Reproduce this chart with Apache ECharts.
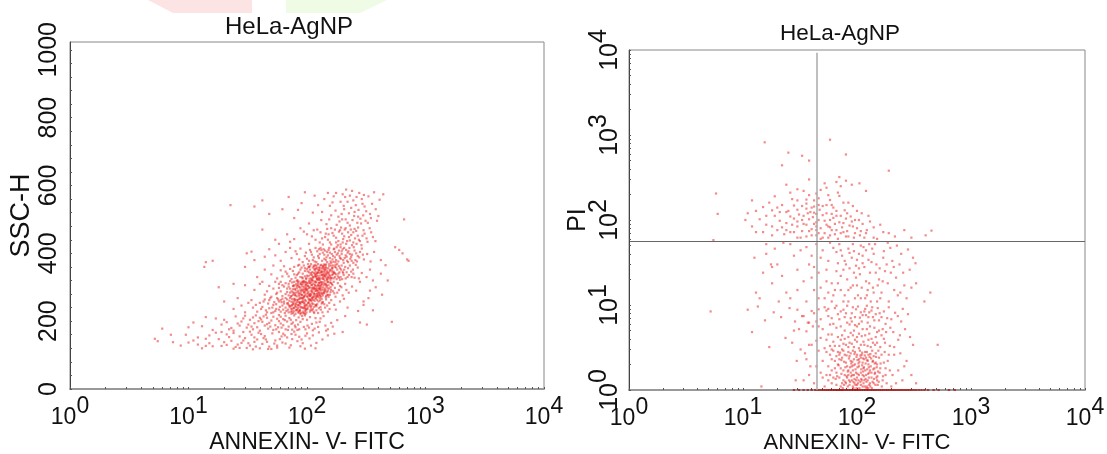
<!DOCTYPE html>
<html>
<head>
<meta charset="utf-8">
<style>html,body{margin:0;padding:0;background:#fff}#main{width:1107px;height:454px}</style>
<script src="https://cdn.jsdelivr.net/npm/echarts@6/dist/echarts.min.js"></script>
</head>
<body>
<div id="main"></div>
<script>
// left plot (ssc height), [annexin, ssc]
const ssc120 = [[12,131],[47,118],[23,142],[88,126],[15,158],[62,137],[31,121],[105,149],[19,127],[74,162],[38,146],[13,120],[56,128],[27,155],[96,119],[42,133],[18,147],[68,152],[33,128],[120,136],[24,119],[51,164],[10,137],[83,141],[29,168],[16,126],[44,156],[71,122],[36,139],[21,161],[59,147],[112,158],[26,131],[78,169],[14,148],[48,125],[34,160],[92,135],[40,120],[20,138],[65,158],[30,150],[8.6,128],[54,143],[135,146],[17,166],[25,124],[86,154],[39,166],[12,152],[46,139],[73,129],[22,153],[100,164],[35,117],[58,168],[28,136],[150,158],[43,150],[19,168],[66,134],[11,143],[32,135],[80,160],[50,118],[24,165],[126,167],[37,125],[61,155],[15,135],[90,146],[41,162],[27,121],[170,163],[53,134],[9.5,160],[75,147],[33,169],[108,128],[45,146],[21,130],[63,163],[29,143],[97,157],[36,152],[14,127],[56,122],[200,168],[118,120],[5.2,148],[5.5,141],[7.4,138],[7.1,160],[6,178]];
const ssc170 = [[54,188],[22,176],[81,203],[36,194],[13,185],[104,181],[46,210],[66,176],[28,199],[91,215],[40,172],[17,208],[74,192],[58,218],[31,181],[120,196],[49,184],[25,214],[86,176],[63,206],[35,211],[143,187],[42,198],[19,190],[70,184],[100,204],[52,174],[27,187],[78,217],[11,196],[60,193],[33,204],[112,173],[45,219],[23,180],[84,190],[56,207],[38,182],[130,208],[68,199],[16,174],[94,183],[48,195],[30,216],[75,175],[160,195],[41,205],[61,181],[106,212],[26,193],[88,198],[52,213],[35,176],[124,183],[71,209],[20,204],[44,187],[97,176],[58,200],[138,215],[32,190],[80,182],[66,216],[47,178],[110,192],[24,172],[85,211],[39,200],[150,176],[63,188],[14,212],[55,176],[92,206],[29,208],[76,196],[118,209],[43,214],[180,203],[69,174],[50,202],[101,187],[37,217],[83,174],[60,213],[128,198],[21,197],[73,204],[46,191],[165,184],[34,184],[57,182],[96,217],[10,182],[116,178],[79,187],[40,210],[210,215],[145,172],[88,220],[65,203]];
const ssc220 = [[72,244],[38,228],[104,258],[55,236],[86,266],[120,232],[64,252],[28,246],[95,224],[48,262],[78,238],[140,250],[60,228],[110,268],[42,242],[88,250],[70,226],[125,258],[52,248],[98,234],[34,262],[82,256],[115,224],[66,240],[155,236],[45,232],[92,264],[75,230],[58,258],[130,242],[100,248],[24,236],[68,264],[84,226],[108,240],[50,224],[122,262],[76,252],[40,254],[96,230],[62,246],[145,264],[90,240],[56,268],[118,248],[80,222],[35,240],[102,254],[71,260],[135,226],[47,252],[87,234],[112,236],[65,224],[170,248],[93,258],[54,230],[128,268],[74,246],[30,226],[106,228],[59,242],[83,262],[150,228],[44,264],[97,246],[69,234],[116,260],[78,266],[190,258],[61,256],[89,224],[133,252],[51,240],[103,266],[73,228],[20,258],[94,252],[57,264],[126,238],[81,242],[37,248],[110,252],[66,268],[160,262],[46,226],[99,226],[85,248],[120,244],[63,234],[142,240],[77,258],[53,256],[108,262],[91,268],[70,248],[41,236],[114,228],[82,232],[175,234],[60,262],[96,240],[49,268],[136,256],[75,236],[105,244],[87,254],[67,230],[124,224],[55,250],[32,254],[101,236],[79,264],[148,246],[92,228],[64,258],[118,266],[43,258],[84,240],[220,240],[72,268],[110,232],[58,234],[26,268],[98,260],[131,234],[76,224],[90,256],[52,226],[205,266],[68,252],[122,250],[86,230],[48,238],[106,264],[62,266],[154,254],[95,244],[80,252],[115,242],[74,222]];
const ssc270 = [[118,296],[78,282],[145,274],[92,310],[60,288],[130,316],[104,278],[70,302],[160,292],[86,274],[112,318],[52,296],[136,284],[98,300],[75,314],[124,276],[152,306],[66,280],[108,290],[84,308],[180,284],[44,278],[120,304],[94,286],[142,296],[72,318],[114,272],[58,310],[100,312],[168,316],[88,292],[132,302],[80,276],[105,298],[36,292],[156,278],[124,288],[68,296],[96,276],[140,312],[76,304],[116,308],[195,300],[90,316],[48,304],[128,294],[102,282],[148,286],[82,298],[62,274],[110,306],[174,272],[94,294],[134,280],[74,288],[120,314],[54,316],[158,300],[86,284],[106,274],[210,310],[126,298],[70,310],[98,316],[144,270],[80,292],[114,284],[40,310],[162,310],[92,302],[130,290],[66,312],[108,276],[186,292],[84,314],[122,282],[150,316],[76,278],[102,304],[138,306],[56,284],[118,274],[96,288],[170,282],[88,310],[112,296],[225,284],[72,296],[132,272],[64,302],[126,312],[100,290],[154,296],[82,318],[116,280],[46,288],[146,302],[90,278],[106,312],[200,276],[78,306],[134,310],[122,292],[60,316],[94,272],[164,306],[110,286],[74,274],[128,304],[86,300],[142,288],[240,302],[102,296],[50,272],[118,316],[68,286],[156,314],[98,308],[136,276],[80,284],[112,272],[182,312],[92,290],[124,306],[30,306],[148,278],[104,318],[76,294],[130,298],[260,290],[88,280],[58,298],[166,288],[114,300],[96,314],[140,282],[70,276],[120,290],[190,304],[84,290],[108,314],[152,272],[62,306],[126,284],[100,274],[280,316],[138,292],[78,316],[116,294],[42,316],[172,298],[90,306],[132,314],[106,280],[215,292],[94,318],[144,308],[72,284],[122,274],[158,286],[82,304],[110,298],[300,258],[128,276],[55,280],[98,294],[150,290]];
const ssc320 = [[150,342],[118,330],[176,358],[96,348],[132,366],[204,336],[110,322],[160,328],[84,340],[142,352],[190,322],[124,344],[70,332],[168,346],[104,360],[222,356],[138,324],[92,326],[154,362],[116,352],[60,350],[184,340],[128,334],[78,360],[146,336],[246,340],[108,342],[172,330],[134,356],[88,352],[196,364],[122,326],[162,350],[100,334],[212,326],[50,338],[140,344],[114,364],[180,352],[74,324],[152,326],[126,358],[238,330],[94,364],[166,338],[136,330],[106,352],[200,346],[64,362],[144,360],[120,338],[186,362],[82,336],[158,322],[268,358],[130,350],[98,324],[174,366],[112,330],[216,344],[148,348],[56,326],[124,368],[192,330],[86,344],[164,356],[138,338],[102,368],[230,364],[156,334],[118,346],[76,348],[178,324],[142,366],[252,328],[108,326],[170,342],[90,358],[128,322],[206,352],[68,340],[150,356],[116,334],[188,344],[134,344],[96,332],[160,364],[44,352],[122,356],[226,336],[146,328],[104,344],[182,332],[80,328],[140,358],[290,342],[112,358],[168,326],[130,364],[198,324],[72,354],[154,344],[126,326],[244,352],[92,340],[176,338],[136,362],[110,336],[210,360],[62,332],[148,322],[120,362],[162,336],[84,364],[194,352],[142,334],[318,330],[100,354],[172,360],[132,326],[220,330],[154,368],[114,342],[52,364],[186,328],[88,330],[126,350],[258,366],[166,364],[106,362],[144,340],[78,338],[202,342],[138,354],[118,366],[236,346],[96,356],[180,368],[150,330],[66,346],[122,322],[164,344],[340,352],[108,368],[190,356],[134,336],[274,326],[86,366],[156,352],[128,342]];
const ssc370 = [[190,386],[148,374],[220,402],[124,392],[168,412],[256,380],[136,402],[204,372],[100,384],[178,396],[154,416],[236,390],[116,376],[192,418],[82,398],[164,382],[214,410],[140,384],[280,404],[106,410],[184,376],[130,416],[246,372],[172,404],[92,374],[150,394],[208,386],[122,406],[268,392],[160,372],[74,386],[228,416],[142,408],[196,398],[110,396],[176,380],[252,408],[134,378],[302,382],[88,414],[156,402],[218,378],[126,386],[186,408],[66,404],[240,396],[166,392],[98,402],[200,412],[146,388],[290,414],[118,416],[174,374],[232,384],[60,378],[138,412],[212,394],[158,376],[264,376],[104,378],[182,400],[128,398],[322,398],[224,406],[152,410],[80,406],[194,384],[114,388],[248,418],[170,414],[54,394],[144,380],[206,416],[96,392],[276,388],[162,398],[120,374],[188,392],[344,376],[132,410],[238,378],[72,416],[216,390],[156,386],[48,412],[178,418],[108,404],[260,400],[202,380],[368,404],[148,404],[126,412],[230,398],[86,382],[296,396],[172,388],[140,396],[222,374],[420,380],[112,380],[196,406],[16,378],[14,374],[13.6,360]];
const ssc420 = [[230,438],[176,446],[262,428],[144,458],[208,470],[294,452],[128,432],[192,426],[246,462],[160,474],[110,450],[226,448],[184,436],[324,434],[270,476],[150,440],[214,428],[94,464],[198,458],[254,444],[136,426],[168,452],[300,468],[240,424],[122,470],[186,464],[78,442],[280,436],[212,474],[156,432],[348,462],[104,428],[236,454],[172,470],[260,466],[142,448],[202,442],[68,456],[318,444],[182,424],[222,462],[130,462],[378,436],[268,452],[118,440],[194,476],[88,474],[246,432],[164,460],[58,428],[288,424],[206,450],[148,472],[338,474],[218,436],[100,456],[176,432],[252,472],[134,444],[306,458],[190,468],[72,434],[234,470],[160,426],[42,470],[274,440],[114,468],[200,432],[360,448],[152,456]];
const ssc480 = [[242,498],[196,516],[286,488],[156,540],[220,552],[316,524],[132,498],[262,566],[178,484],[346,504],[206,530],[112,520],[250,510],[294,546],[168,568],[230,482],[380,530],[146,486],[272,528],[192,552],[90,548],[326,490],[212,500],[240,584],[124,542],[302,572],[184,508],[410,558],[160,512],[258,542],[70,566],[226,518],[354,546],[140,560],[282,502],[200,574],[104,488],[236,534],[330,568],[174,526],[266,490],[78,504],[214,588],[390,496],[150,578],[298,512],[116,570],[246,556],[62,530],[188,494],[440,574],[204,540],[276,578],[96,580],[340,516],[164,550],[220,490],[368,580],[134,522],[252,522],[312,496],[176,578],[84,528],[290,560],[42,556],[36,538],[230,570],[198,500],[270,508],[22.6,542],[48,516],[210,566],[306,538],[154,500],[400,510]];
const sscStray = [[430,278],[480,320],[520,198],[555,418],[600,410],[640,400],[660,500],[700,382],[720,378],[360,232],[330,268],[300,248],[280,196],[270,230],[380,300],[340,290],[360,320],[420,340],[320,190],[460,365],[30,360],[34,405],[31,400],[38,330],[44,390],[54,440],[24,310],[18,300],[36,380]];
// darkest part of the left cloud, second pass over it
const sscDense = [[103,287],[84,247],[127,327],[96,263],[141,349],[78,229],[113,311],[90,241],[133,293],[107,337],[74,257],[121,279],[88,299],[147,323],[99,235],[116,353],[82,273],[137,361],[93,317],[109,259],[71,243],[125,305],[86,225],[153,337],[101,271],[118,289],[79,261],[131,345],[95,301],[111,323],[83,235],[143,309],[91,277],[106,249],[76,285],[123,333],[97,221],[135,315],[87,267],[115,297],[129,357],[81,249],[103,313],[149,297],[93,239],[119,269],[73,273],[139,335],[99,293],[111,345],[85,303],[127,281],[77,239],[105,325],[91,257],[145,355],[117,317],[83,285],[133,265],[101,241],[69,253],[121,341],[95,283],[109,307],[137,299],[87,231],[155,329],[113,263],[79,295],[125,351],[97,249],[105,275],[141,319],[89,311],[119,333],[75,265],[131,283],[101,305],[85,257],[147,343],[111,291],[93,223],[123,271],[81,309],[135,347],[107,233],[163,357],[115,279],[77,251],[127,313],[99,327],[89,269],[143,291],[109,245],[83,321],[121,297],[95,255],[139,367],[103,359],[73,237],[117,339],[91,293],[129,261],[159,313],[105,301],[87,243],[113,329],[97,307],[151,277],[79,277],[125,321],[135,255],[101,347],[93,269],[119,247],[171,341],[83,263],[109,281],[141,331],[77,303],[115,361],[95,237],[131,307],[103,253],[89,287],[123,343],[149,315],[107,319],[85,279],[167,375],[111,267],[137,325],[99,281],[75,247],[127,295],[91,329],[157,349],[117,305],[81,233],[145,367],[105,263],[121,325],[93,315],[133,337],[87,255],[113,251],[161,327],[97,295],[129,275],[79,245],[139,285],[103,333],[119,355],[85,317],[147,305],[95,273]];

// right plot, [annexin, pi], bands of pi
const piBot = [[100,1.4],[72,1.1],[130,1.7],[88,2.2],[56,1.3],[112,1.1],[150,2.0],[64,1.8],[95,1.2],[178,1.5],[78,2.6],[120,2.4],[48,1.6],[104,1.9],[140,1.2],[84,1.5],[200,1.1],[60,2.3],[116,1.3],[92,2.9],[160,1.8],[70,1.4],[126,2.0],[108,1.15],[42,1.2],[82,1.9],[146,2.7],[54,2.8],[98,1.6],[186,2.2],[66,1.15],[134,1.4],[110,2.6],[76,1.7],[230,1.7],[122,1.1],[90,1.3],[168,1.3],[58,1.5],[104,2.3],[152,1.15],[74,2.4],[114,1.8],[50,2.2],[96,2.0],[212,2.6],[80,1.2],[138,2.2],[62,2.9],[128,1.6],[86,2.5],[175,2.8],[102,1.2],[68,2.0],[144,1.6],[118,2.8],[46,2.9],[92,1.1],[250,1.3],[76,1.3],[156,2.4],[108,1.6],[56,1.9],[132,1.9],[84,2.8],[194,1.7],[70,2.6],[124,1.3],[100,2.6],[60,1.2],[165,1.1],[88,1.6],[148,1.4],[112,2.1],[272,2.2],[66,1.6],[94,2.3],[136,2.9],[52,1.1],[120,1.5],[80,2.1],[182,1.2],[106,2.9],[72,1.8],[142,1.8],[300,1.5],[90,1.9],[58,2.6],[126,2.6],[98,1.3],[220,1.2],[64,2.2],[116,2.3],[158,1.6],[82,1.4],[44,1.9],[110,1.3],[74,1.2],[172,2.1],[130,1.2],[94,1.5],[240,2.7],[68,2.8],[122,2.8],[86,1.15],[38,1.5],[150,1.3],[104,1.5],[54,1.5],[190,2.6],[78,1.5],[140,2.5],[114,1.2],[62,1.4],[96,2.8],[205,1.5],[128,1.15],[34,1.3],[84,1.7],[164,2.6],[108,2.4],[70,2.3],[260,1.9],[118,1.7],[92,1.7],[50,1.4],[146,2.1],[76,2.9],[134,1.6],[100,1.15],[330,1.2],[60,1.7],[178,1.8],[88,2.7],[124,2.2],[66,2.5],[154,2.9],[112,1.5],[29,1.3],[36,2.3]];
// darkest part of the right cloud, second pass over it
const piDense = [[107,1.25],[89,1.45],[131,1.1],[97,1.75],[119,1.35],[79,1.25],[143,1.55],[103,2.05],[113,1.65],[85,2.35],[127,1.85],[93,1.05],[73,1.55],[137,2.15],[101,1.85],[117,2.55],[83,1.1],[155,1.25],[91,2.15],[125,1.05],[109,1.75],[69,1.95],[149,1.85],[99,2.45],[121,1.25],[77,2.15],[133,2.35],[95,1.35],[111,2.75],[87,1.25],[141,1.35],[105,1.05],[81,2.55],[161,2.05],[115,1.45],[75,1.05],[129,2.45],[93,1.95],[123,1.75],[71,2.75],[145,1.15],[101,1.55],[87,1.85],[135,1.05],[113,2.35],[65,1.35],[153,1.65],[97,1.15],[119,2.05],[83,1.65],[127,1.4],[107,2.55],[91,1.5],[139,1.75],[79,1.85],[103,1.3],[117,1.1],[147,2.45],[95,2.65],[73,2.25],[131,2.65],[109,1.35],[85,1.3],[123,2.25],[99,1.05],[169,1.45],[111,1.95],[77,1.15],[137,1.25],[89,2.05],[125,1.55],[105,2.15],[81,1.45],[143,2.05],[93,1.25],[115,1.85],[67,1.45],[151,1.45],[101,2.25],[121,1.05]];
const piLow = [[92,4.4],[58,3.3],[124,6.2],[76,8.8],[150,3.6],[104,3.1],[66,5.4],[180,4.8],[88,7.0],[48,4.1],[136,9.4],[116,3.4],[72,3.9],[200,6.8],[96,5.8],[56,7.4],[160,3.2],[84,3.2],[128,4.6],[64,9.2],[108,8.2],[230,3.9],[44,6.4],[142,5.4],[78,5.0],[100,3.7],[172,8.4],[60,4.5],[120,7.6],[90,3.5],[52,3.1],[264,5.2],[132,3.2],[70,6.8],[112,5.2],[156,6.6],[82,9.8],[40,3.4],[194,3.3],[98,8.9],[62,3.7],[146,4.2],[74,4.4],[118,9.0],[54,8.6],[216,8.1],[104,4.6],[86,5.9],[126,3.9],[46,8.9],[168,5.2],[68,7.8],[94,3.2],[138,7.2],[58,5.9],[110,6.4],[244,6.4],[80,3.4],[152,9.2],[122,5.2],[36,4.9],[184,7.0],[72,5.6],[102,9.6],[50,5.2],[134,4.0],[90,6.4],[64,3.3],[292,4.2],[114,3.7],[164,4.4],[78,7.2],[42,8.0],[144,3.4],[96,3.9],[208,4.8],[60,7.0],[128,8.2],[84,4.2],[106,7.1],[34,7.4],[176,3.6],[70,3.3],[118,4.4],[54,3.9],[156,5.0],[92,9.4],[252,9.0],[66,9.8],[138,3.6],[100,5.6],[76,3.5],[190,9.4],[48,6.8],[124,3.3],[88,4.7],[32,3.0],[146,7.8],[110,4.3],[62,6.0],[228,7.4],[80,8.0],[172,4.0],[130,5.6],[56,4.5],[96,7.2],[38,6.2],[280,7.8],[116,8.4],[74,3.0],[158,8.0],[104,6.0],[68,4.2],[196,5.4],[142,6.6],[86,3.6],[44,3.8],[122,9.8],[52,9.4],[212,3.2],[94,5.0],[28,5.0],[150,4.8],[82,6.2],[112,7.6],[60,3.0],[310,3.4],[134,8.6],[72,8.4],[178,6.0],[100,4.2],[46,5.6],[126,7.2],[78,4.0],[238,4.4],[90,8.0],[164,7.2],[56,9.0],[108,3.4],[510,3.4]];
const piMid = [[140,14],[72,22],[190,11],[100,34],[48,16],[118,12],[84,46],[30,26],[156,20],[62,13],[210,28],[92,17],[40,38],[130,24],[76,11],[260,17],[108,50],[54,19],[170,36],[24,14],[86,27],[124,15],[66,42],[228,13],[148,30],[36,11],[98,21],[58,54],[186,18],[112,38],[20,30],[78,13],[290,26],[136,46],[46,24],[96,12],[68,31],[160,12],[244,40],[120,19],[32,44],[88,16],[52,12],[204,33],[104,27],[18,18],[74,38],[144,52],[60,18],[272,12],[126,34],[42,15],[176,25],[84,11],[110,16],[26,52],[94,43],[66,25],[220,21],[152,17],[38,30],[80,30],[132,11],[50,44],[310,36],[102,13],[16,40],[72,15],[196,47],[116,28],[56,33],[164,14],[34,19],[90,36],[236,30],[140,40],[22,22],[70,52],[128,18],[44,52],[106,23],[182,30],[60,11],[300,16],[82,20],[146,24],[28,38],[114,48],[64,15],[254,24],[98,29],[48,36],[212,15],[134,32],[14,12],[76,26],[172,43],[40,21],[122,13],[54,26],[92,52],[326,31],[158,27],[30,15],[108,12],[68,18],[198,24],[86,41],[120,44],[36,48],[150,11],[62,47],[280,45],[100,17],[46,12],[224,50],[78,33],[138,16],[26,12],[112,31],[56,14],[168,19],[94,24],[390,11],[18,28],[72,44],[186,54],[128,52],[42,28],[104,40],[240,14],[84,15],[330,18],[440,14],[12.6,36],[13,14],[15,24],[16,52],[17.6,30],[19,46],[20.6,11],[22.6,54]];
const piUp = [[44,118],[24,92],[60,150],[33,74],[80,64],[18,130],[52,98],[30,170],[72,112],[40,66],[14,102],[100,80],[26,210],[56,84],[36,136],[120,70],[46,180],[20,76],[66,128],[28,104],[90,96],[42,90],[12,170],[54,240],[34,112],[76,72],[22,150],[48,60],[110,120],[38,196],[62,106],[16,88],[30,84],[84,160],[44,76],[140,62],[25,128],[58,66],[36,88],[70,192],[19,112],[50,146],[32,62],[96,70],[42,144],[13,128],[64,90],[27,176],[78,130],[46,100],[160,88],[23,68],[54,120],[38,102],[88,110],[30,132],[68,60],[15,72],[48,226],[104,100],[34,90],[58,172],[21,98],[74,82],[40,78],[130,96],[26,110],[52,70],[116,62],[36,156],[10.5,100],[82,74],[44,94],[17,160],[62,140],[30,96],[190,70],[47,132],[24,124],[92,146],[56,62],[39,124],[72,250],[20,140],[150,60],[33,146],[66,76],[12,84],[44,205],[108,74],[28,72],[54,88],[80,104],[36,64],[24,260],[60,118],[42,170],[18,66],[126,112],[50,114],[31,116],[94,62],[70,94],[38,74],[215,64],[22,82],[46,150],[86,86],[15,142],[58,100],[34,220],[76,160],[27,88],[100,128],[52,270],[41,108],[64,68],[19,190],[140,82],[30,62],[56,196],[44,66],[112,90],[26,72],[82,120],[37,120],[68,210],[16,112],[48,80],[260,76],[24,76],[92,84],[40,140],[60,76],[11,120],[72,70],[33,100],[54,150],[122,76],[28,148],[44,84],[170,72],[21,124],[84,64],[50,62],[36,174],[66,112],[13,72],[76,92],[42,122],[96,100],[300,62],[30,230],[58,82],[18,84],[106,66],[46,70],[400,66],[450,75],[38,300],[70,320],[58,880],[15.5,820],[80,590],[33,570],[38,500],[25,620],[22,440],[190,380],[5.8,205],[6,118],[66,280],[90,260],[80,290],[105,270],[120,220]];
const piLeft = [[5.2,8.4],[5.5,58],[11,8.8],[12,4.8],[13.5,9.6],[14.5,1.1],[15.6,6.6],[17,3.2],[18.6,8.2],[21.6,7.2],[23.6,4.1],[25.6,9.2],[27,3.6],[28.6,6.4],[29.6,2.2],[30,8.8],[31,5.2],[33,7.4],[35,2.7],[37,6.2],[38,3.4],[39,1.9],[40,8.5],[41,5.6]];
const piRail = [28,31,34,37,40,43,45,47,49,51,53,55,57,59,61,63,65,67,69,71,73,75,78,81,84,87,90,93,96,99,102,106,110,114,118,122,126,131,136,141,146,152,158,164,170,177,184,191,199,207,215,224,233,243,253,264,275,287,300,314,330,348,368,390,420,470,520,640,720];

const tickVals = [1, 10, 100, 1000, 10000];
const logMinors = [1,2,3,4,5,6,7,8,9,10,20,30,40,50,60,70,80,90,100,200,300,400,500,600,700,800,900,1000,2000,3000,4000,5000,6000,7000,8000,9000,10000];
const sscLabels = [0, 200, 400, 600, 800, 1000];
const sscTicks = [0,40,80,120,160,200,240,280,320,360,400,440,480,520,560,600,640,680,720,760,800,840,880,920,960,1000];
const quadX = 44;
const quadY = 57;

const sans = 'Liberation Sans';

function powLabel(v) {
  return '{b|10}{s|' + Math.round(Math.log10(v)) + '}';
}

function powRich(size) {
  return {
    b: {fontFamily: sans, fontSize: size, color: '#111', verticalAlign: 'bottom'},
    s: {fontFamily: sans, fontSize: size, color: '#111', verticalAlign: 'top', padding: [0, 0, 11, 0]}
  };
}

function xAxisOpt(idx, nameSize) {
  return {
    gridIndex: idx, type: 'log', logBase: 10, min: 1, max: 10000,
    name: 'ANNEXIN- V- FITC', nameLocation: 'middle', nameGap: 42, nameMoveOverlap: false,
    nameTextStyle: {fontFamily: sans, fontSize: nameSize, color: '#111'},
    axisLine: {show: true, lineStyle: {color: '#999', width: 2}},
    axisTick: {show: true, inside: true, length: 2, customValues: logMinors, lineStyle: {color: '#555', width: 1}},
    axisLabel: {customValues: tickVals, margin: 6, hideOverlap: false, formatter: powLabel, rich: powRich(23)},
    splitLine: {show: false}
  };
}

const pointStyle = {color: '#e81818', opacity: 0.5};

var chart = echarts.init(document.getElementById('main'));
var option = {
  backgroundColor: '#fff',
  animation: false,
  title: [
    {text: 'HeLa-AgNP', left: 289, top: 15, padding: 0, textAlign: 'center', textStyle: {fontFamily: sans, fontSize: 24, fontWeight: 'normal', color: '#111'}},
    {text: 'HeLa-AgNP', left: 840, top: 22, padding: 0, textAlign: 'center', textStyle: {fontFamily: sans, fontSize: 22.5, fontWeight: 'normal', color: '#111'}}
  ],
  grid: [
    {left: 70, width: 474, top: 42, height: 347, show: true, borderColor: '#888', borderWidth: 1, outerBoundsMode: 'none'},
    {left: 629, width: 456, top: 50, height: 340, show: true, borderColor: '#888', borderWidth: 1, outerBoundsMode: 'none'}
  ],
  xAxis: [xAxisOpt(0, 23), xAxisOpt(1, 22)],
  yAxis: [
    {
      gridIndex: 0, type: 'value', min: 0, max: 1023,
      name: 'SSC-H', nameLocation: 'middle', nameGap: 35, nameRotate: 90, nameMoveOverlap: false,
      nameTextStyle: {fontFamily: sans, fontSize: 27, color: '#111'},
      axisLine: {show: true, lineStyle: {color: '#444', width: 1}},
      axisTick: {show: true, inside: true, length: 2, customValues: sscTicks, lineStyle: {color: '#555'}},
      axisLabel: {customValues: sscLabels, rotate: 90, margin: 8, hideOverlap: false, formatter: function (v) { return String(v); }, fontFamily: sans, fontSize: 25, color: '#111'},
      splitLine: {show: false}
    },
    {
      gridIndex: 1, type: 'log', logBase: 10, min: 1, max: 10000,
      name: 'PI', nameLocation: 'middle', nameGap: 38, nameRotate: 90, nameMoveOverlap: false,
      nameTextStyle: {fontFamily: sans, fontSize: 25, color: '#111'},
      axisLine: {show: true, lineStyle: {color: '#444', width: 1}},
      axisTick: {show: true, inside: true, length: 2, customValues: logMinors, lineStyle: {color: '#555'}},
      axisLabel: {customValues: tickVals, rotate: 90, margin: 6, hideOverlap: false, formatter: powLabel, rich: powRich(25)},
      splitLine: {show: false}
    }
  ],
  series: [
    {
      name: 'SSC', type: 'scatter', xAxisIndex: 0, yAxisIndex: 0, symbol: 'rect', symbolSize: 2.2,
      itemStyle: pointStyle,
      data: [].concat(ssc120, ssc170, ssc220, ssc270, ssc320, ssc370, ssc420, ssc480, sscStray, sscDense)
    },
    {
      name: 'PI', type: 'scatter', xAxisIndex: 1, yAxisIndex: 1, symbol: 'rect', symbolSize: 2.2,
      itemStyle: pointStyle,
      data: [].concat(piBot, piDense, piLow, piMid, piUp, piLeft),
      markLine: {
        silent: true, symbol: 'none', animation: false, label: {show: false},
        data: [
          [{coord: [quadX, 1], lineStyle: {color: '#aaa', width: 1.5, type: 'solid'}}, {coord: [quadX, 9300]}],
          [{coord: [1.02, quadY], lineStyle: {color: '#666', width: 1, type: 'solid'}}, {coord: [10000, quadY]}]
        ]
      }
    },
    {
      name: 'rail', type: 'scatter', xAxisIndex: 1, yAxisIndex: 1, symbol: 'rect', symbolSize: [2.4, 1.6],
      itemStyle: {color: '#b00000'},
      data: piRail.map(function (x) { return [x, 1]; })
    }
  ],
  graphic: [
    {type: 'polygon', silent: true, shape: {points: [[148, 0], [252, 0], [252, 13], [173, 13]]}, style: {fill: '#fde4e4'}},
    {type: 'polygon', silent: true, shape: {points: [[286, 0], [387, 0], [360, 13], [286, 13]]}, style: {fill: '#effbe4'}}
  ]
};
chart.setOption(option);
</script>
</body>
</html>
